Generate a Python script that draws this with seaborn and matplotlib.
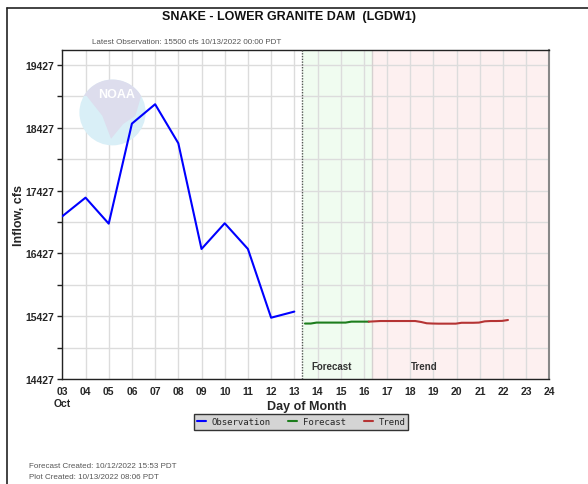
import numpy as np
import pandas as pd
import seaborn as sns
import matplotlib.pyplot as plt
from matplotlib.lines import Line2D
from matplotlib.patches import Ellipse, Polygon

# Observed inflow, daily at 00:00 PDT (day of month, cfs)
obs_day = [3, 4, 5, 6, 7, 8, 9, 10, 11, 12, 13]
obs_cfs = [17018, 17314, 16900, 18493, 18801, 18180, 16497, 16906, 16497, 15403, 15500]

# Forecast, 6-hourly
fc_day = [13.46, 13.71, 13.96, 14.21, 14.46, 14.71, 14.96, 15.21, 15.46, 15.71, 15.96, 16.21]
fc_cfs = [15310, 15310, 15325, 15325, 15325, 15325, 15325, 15325, 15340, 15340, 15340, 15340]

# Trend, 6-hourly
tr_day = [16.21, 16.46, 16.71, 16.96, 17.21, 17.46, 17.71, 17.96, 18.21, 18.46, 18.71,
          18.96, 19.21, 19.46, 19.71, 19.96, 20.21, 20.46, 20.71, 20.96, 21.21, 21.46,
          21.71, 21.96, 22.21]
tr_cfs = [15340, 15345, 15350, 15350, 15350, 15350, 15350, 15350, 15350, 15335, 15314,
          15310, 15308, 15308, 15308, 15308, 15322, 15322, 15322, 15325, 15345, 15350,
          15350, 15352, 15366]

plot_created = 13.34   # 10/13 08:06 PDT
trend_start = 16.33

df = pd.concat([
    pd.DataFrame({'day': obs_day, 'cfs': obs_cfs, 'series': 'Observation'}),
    pd.DataFrame({'day': fc_day, 'cfs': fc_cfs, 'series': 'Forecast'}),
    pd.DataFrame({'day': tr_day, 'cfs': tr_cfs, 'series': 'Trend'}),
])
colors = {'Observation': '#0000ff', 'Forecast': '#1d7d1d', 'Trend': '#b53434'}

sns.set_style('white')
plt.rcParams['font.family'] = ['Liberation Sans', 'DejaVu Sans']

fig = plt.figure(figsize=(5.88, 4.85), dpi=100)
ax = fig.add_axes([0.106, 0.2165, 0.8285, 0.6784])

# forecast / trend shading
ax.axvspan(plot_created, trend_start, color='#f0fcf0', zorder=0.2, lw=0)
ax.axvspan(trend_start, 24, color='#fdf0f0', zorder=0.2, lw=0)
ax.axvline(trend_start, color='#d6d0d0', lw=1, zorder=0.6)
ax.axvline(plot_created, color='#555555', lw=1, ls=(0, (1, 1)), zorder=3)

# NOAA watermark (rough)
ax.add_patch(Ellipse((0.103, 0.81), 0.136, 0.20, transform=ax.transAxes,
                     color='#d9eff7', zorder=0.7, lw=0))
t = np.linspace(np.radians(150), np.radians(30), 30)
pts = [(0.103 + 0.068 * np.cos(a), 0.81 + 0.10 * np.sin(a)) for a in t]
pts += [(0.150, 0.80), (0.125, 0.775), (0.10, 0.73), (0.082, 0.80), (0.05, 0.86)]
ax.add_patch(Polygon(pts, closed=True, transform=ax.transAxes,
                     color='#dddded', zorder=0.75, lw=0))
ax.text(0.112, 0.865, 'NOAA', transform=ax.transAxes, color='white', fontsize=9,
        fontweight='bold', ha='center', va='center', zorder=0.8)

sns.lineplot(data=df, x='day', y='cfs', hue='series', palette=colors, lw=1.5,
             legend=False, ax=ax, zorder=4, estimator=None, sort=False)

ax.set_xlim(3, 24)
ax.set_ylim(14427, 19665)
ax.set_xticks(range(3, 25))
ax.set_xticklabels([f'{d:02d}' for d in range(3, 25)])
ax.set_yticks([14427 + 1000 * k for k in range(6)])
ax.set_yticks([14927 + 1000 * k for k in range(5)], minor=True)
ax.set_axisbelow(True)
ax.grid(True, which='both', color='#dcdcdc', lw=1)
ax.tick_params(axis='x', direction='in', length=3, width=1, color='#222222',
               labelsize=7.5, pad=5)
ax.tick_params(axis='y', which='both', direction='out', length=3.6, width=1,
               color='#222222', labelsize=7.5, pad=2, left=True)
for lab in ax.get_xticklabels() + ax.get_yticklabels():
    lab.set_fontweight('bold')
ax.set_xlabel('')
ax.set_ylabel('Inflow, cfs', fontsize=9, fontweight='bold')
ax.yaxis.set_label_coords(-0.077, 0.5)
for side in ['left', 'bottom', 'top']:
    ax.spines[side].set_color('#222222')
    ax.spines[side].set_linewidth(1)
ax.spines['right'].set_color('#888888')
ax.spines['right'].set_linewidth(1.5)

ax.text(14.6, 14640, 'Forecast', ha='center', va='center', fontsize=7,
        fontweight='bold', color='#333333', zorder=5)
ax.text(18.6, 14640, 'Trend', ha='center', va='center', fontsize=7,
        fontweight='bold', color='#333333', zorder=5)

# figure texts
W, H = 588, 485
def ftext(x, y, s, **kw):
    fig.text(x / W, 1 - y / H, s, **kw)

ftext(289, 17, 'SNAKE - LOWER GRANITE DAM  (LGDW1)', ha='center', va='center',
      fontsize=9, fontweight='bold', color='#111111')
ftext(187, 42, 'Latest Observation: 15500 cfs 10/13/2022 00:00 PDT', ha='center',
      va='center', fontsize=5.8, color='#555555')
ftext(62, 404, 'Oct', ha='center', va='center', fontsize=7.5, fontweight='bold')
ftext(307, 407, 'Day of Month', ha='center', va='center', fontsize=9, fontweight='bold')
ftext(29, 467, 'Forecast Created: 10/12/2022 15:53 PDT', ha='left', va='center',
      fontsize=5.8, color='#555555')
ftext(29, 478, 'Plot Created: 10/13/2022 08:06 PDT', ha='left', va='center',
      fontsize=5.8, color='#555555')

# outer frame
fig.add_artist(Line2D([7 / W, 1], [1 - 9 / H] * 2, color='#222222', lw=1.2,
                      transform=fig.transFigure))
fig.add_artist(Line2D([7 / W] * 2, [0, 1 - 9 / H], color='#222222', lw=1.2,
                      transform=fig.transFigure))

handles = [Line2D([], [], color=colors[s], lw=1.5) for s in colors]
leg = fig.legend(handles, list(colors), loc='center', bbox_to_anchor=(301 / W, 1 - 423 / H),
                 ncol=3, frameon=True, fancybox=False, handlelength=1.0,
                 handletextpad=0.6, columnspacing=2.0, borderpad=0.35,
                 prop={'family': 'DejaVu Sans Mono', 'size': 6.5})
leg.get_frame().set_facecolor('#d4d4d4')
leg.get_frame().set_edgecolor('#333333')
leg.get_frame().set_linewidth(1)
leg.get_frame().set_alpha(1)

fig.savefig('out.png', dpi=100)
